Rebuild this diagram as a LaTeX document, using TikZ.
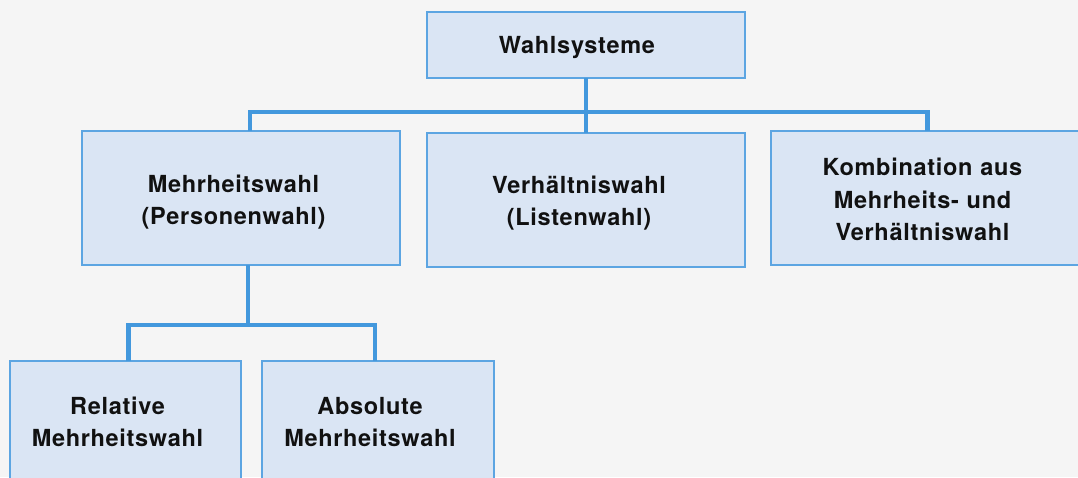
\documentclass[tikz,border=0pt]{standalone}
\usepackage{fontspec}
\setmainfont{TeX Gyre Heros}[LetterSpace=3]
\definecolor{bgc}{HTML}{F5F5F5}
\definecolor{boxfill}{HTML}{DAE5F4}
\definecolor{boxline}{HTML}{5CA5E2}
\definecolor{conncol}{HTML}{4398DD}
\definecolor{txtc}{HTML}{111111}
\tikzset{
  box/.style={draw=boxline, fill=boxfill, line width=1.4pt, rectangle, inner sep=0pt, outer sep=0pt},
  lbl/.style={text=txtc, font=\bfseries\fontsize{23.5}{32.5}\selectfont, align=center, text width=300pt, anchor=base, inner sep=0pt},
  conn/.style={draw=conncol, line width=4.6pt, line join=miter, line cap=butt}
}
\begin{document}
\begin{tikzpicture}[x=1pt, y=-1pt]
\clip (0,0) rectangle (1078,477);
\fill[bgc] (0,0) rectangle (1078,477);
% boxes
\node[box, minimum width=318pt, minimum height=66pt] (top) at (586,45) {};
\node[box, minimum width=318pt, minimum height=134pt] (mw) at (241,198) {};
\node[box, minimum width=318pt, minimum height=134pt] (vw) at (586,200) {};
\node[box, minimum width=318pt, minimum height=134pt] (kv) at (930,198) {};
\node[box, minimum width=231pt, minimum height=140pt] (rel) at (125.5,431) {};
\node[box, minimum width=232pt, minimum height=140pt] (abs) at (378,431) {};
% labels
\node[lbl] (ttop) at (577,53) {Wahlsysteme};
\node[lbl] (tmw) at (233.5,192.3) {Mehrheitswahl\\(Personenwahl)};
\node[lbl] (tvw) at (579,193) {Verhältniswahl\\(Listenwahl)};
\node[lbl] (tkv) at (922.5,175.7) {Kombination aus\\Mehrheits- und\\Verhältniswahl};
\node[lbl] (trel) at (117.5,414) {Relative\\Mehrheitswahl};
\node[lbl] (tabs) at (370,414) {Absolute\\Mehrheitswahl};
% connectors
\coordinate (bar1) at (586,112);
\coordinate (bar2) at (248,325);
\draw[conn] (top.south) -- (vw.north);
\draw[conn] ([xshift=9pt]mw.north) |- (bar1) -| ([xshift=-2.5pt]kv.north);
\draw[conn] ([xshift=7pt]mw.south) -- (bar2);
\draw[conn] ([xshift=3pt]rel.north) |- (bar2) -| ([xshift=-3pt]abs.north);
\end{tikzpicture}
\end{document}
